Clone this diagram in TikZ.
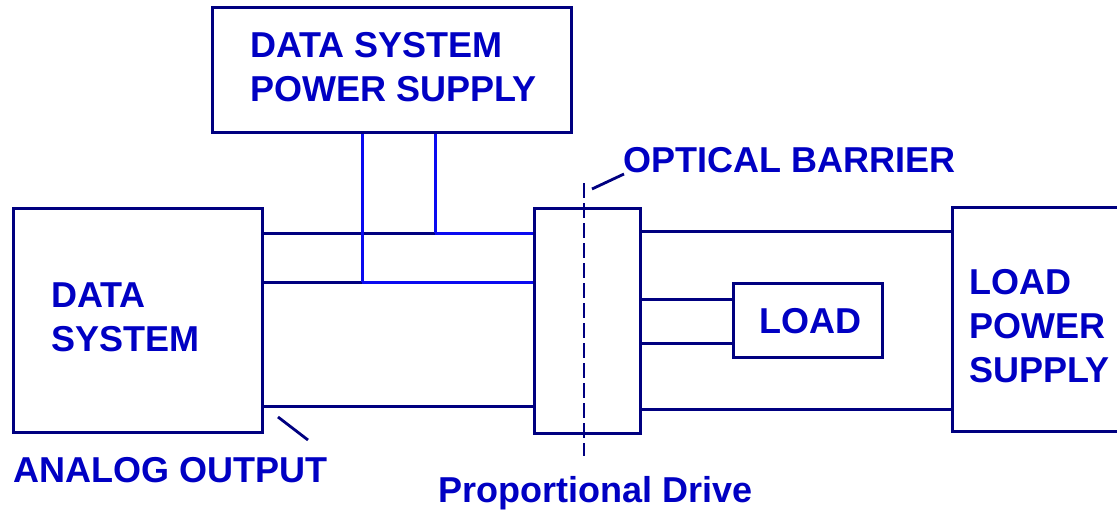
\documentclass[tikz,border=0pt]{standalone}
\usepackage{fontspec}
\setmainfont{Liberation Sans}
\definecolor{txtblue}{RGB}{0,0,195}
\definecolor{navy}{RGB}{0,0,128}
\definecolor{wireblue}{RGB}{10,10,240}
\begin{document}
\begin{tikzpicture}[x=1pt,y=-1pt,
  box/.style={draw=navy,line width=3pt,inner sep=0pt,minimum width=#1},
  lbl/.style={text=txtblue,font=\fontsize{36}{44}\selectfont\bfseries,inner sep=0pt,anchor=base west,align=left},
  wire/.style={draw=navy,line width=3pt},
  bwire/.style={draw=wireblue,line width=3pt},
  leader/.style={draw=navy,line width=2.8pt}]
\useasboundingbox (0,0) rectangle (1117,511);
% boxes
\node[box=359pt,minimum height=124pt] (dsps) at (391.5,70) {};
\node[box=249pt,minimum height=224pt] (ds) at (137.5,320) {};
\node[box=106pt,minimum height=225pt] (ob) at (587,320.5) {};
\node[box=149pt,minimum height=74pt] (load) at (807.5,320) {};
\coordinate (lpsnw) at (952,207);
\coordinate (lpssw) at (952,431);
\draw[wire,line cap=butt] (1120,207) -- (lpsnw) -- (lpssw) -- (1120,431);
% texts (anchor = baseline of the last line)
\node[lbl] (tdsps) at (250,102) {DATA SYSTEM\\POWER SUPPLY};
\node[lbl] (tds) at (51,351) {DATA\\SYSTEM};
\node[lbl] (tload) at (759,333) {LOAD};
\node[lbl] (tlps) at (969,382) {LOAD\\POWER\\SUPPLY};
\node[lbl] (tob) at (623,172) {OPTICAL BARRIER};
\node[lbl] (tao) at (13,482) {ANALOG OUTPUT};
\node[lbl] (tpd) at (438,502) {Proportional Drive};
% junction coordinates
\coordinate (j1) at (435,233);
\coordinate (j2) at (362,282);
% left wires
\draw[wire] (ds.east |- j1) -- (j1);
\draw[bwire] (j1) -- (ob.west |- j1);
\draw[wire] (ds.east |- j2) -- (j2);
\draw[bwire] (j2) -- (ob.west |- j2);
\draw[bwire] (dsps.south -| j1) -- (j1);
\draw[bwire] (dsps.south -| j2) -- (j2);
\draw[wire] (ds.east |- 0,406) -- (ob.west |- 0,406);
% right wires
\draw[wire] (ob.east |- 0,231) -- (lpsnw |- 0,231);
\draw[wire] (ob.east |- 0,409) -- (lpsnw |- 0,409);
\draw[wire] (ob.east |- 0,299) -- (load.west |- 0,299);
\draw[wire] (ob.east |- 0,343) -- (load.west |- 0,343);
% optical barrier dashed line
\coordinate (dtop) at (584,183);
\coordinate (dbot) at (584,456);
\draw[navy,line width=1.3pt,dash pattern=on 15pt off 5pt] (dtop) -- (dbot);
% leaders
\coordinate (l1a) at (592,189);
\coordinate (l1b) at (624,174);
\draw[leader] (l1a) -- (l1b);
\coordinate (l2a) at (278,417);
\coordinate (l2b) at (308,440);
\draw[leader] (l2a) -- (l2b);
\end{tikzpicture}
\end{document}
